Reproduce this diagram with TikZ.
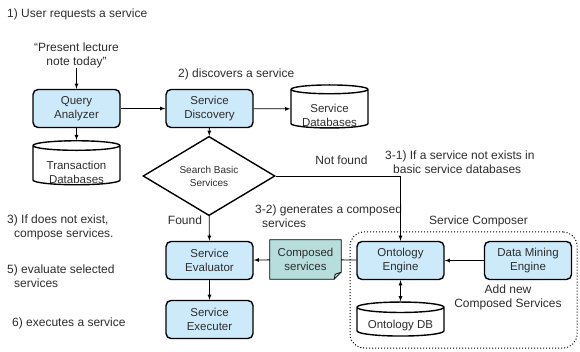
\documentclass[tikz,border=0pt]{standalone}
\usepackage{fontspec}
\setmainfont{Liberation Sans}
\usepackage{tikz}
\usetikzlibrary{arrows,backgrounds}
\usetikzlibrary{shapes}
\usepackage{xcolor}
\definecolor{box-blue}{RGB}{205,234,250}
\definecolor{note-teal}{RGB}{183,222,221}
\definecolor{ink}{RGB}{45,45,45}
\tikzstyle{process}=[draw, line width=1.4pt, rounded corners=5pt, fill=box-blue, align=center, minimum width=87pt, minimum height=38pt, inner sep=0pt, font=\fontsize{11.5}{14}\selectfont]
\tikzstyle{database}=[draw, line width=1.4pt, cylinder, shape border rotate=90, aspect=0.16, fill=white, align=center, inner sep=0pt, font=\fontsize{11.5}{14}\selectfont]
\tikzstyle{dblabel}=[align=center, font=\fontsize{11.5}{14}\selectfont]
\tikzstyle{decision}=[draw, line width=1.4pt, diamond, align=center, minimum width=132pt, minimum height=54pt, inner sep=0pt, font=\fontsize{10}{13}\selectfont]
\tikzstyle{caption}=[align=left, anchor=west, inner sep=0pt]
\tikzstyle{connector}=[line width=0.8pt, -latex]

\begin{document}
\begin{tikzpicture}[x=1pt, y=-1pt, text=ink, font=\fontsize{12}{14}\selectfont]
	\useasboundingbox (0,0) rectangle (580,352);
	\node[caption] (step1) at (7,14) {1) User requests a service};
	\node[align=center, inner sep=0pt] (quote) at (76.5,55) {``Present lecture\\note today''};
	\node[process] (query) at (76.5,108.5) {Query\\Analyzer};
	\node[process] (discovery) at (209.5,108.5) {Service\\Discovery};
	\node[caption] (step2) at (178,74) {2) discovers a service};
	\node[database, minimum width=77pt, minimum height=43pt, label={[dblabel, yshift=-6pt]center:Service\\Databases}] (servicedb) at (329.5,109) {\phantom{Service}\\\phantom{Databases}};
	\node[database, minimum width=87pt, minimum height=44pt, label={[dblabel, yshift=-7pt]center:Transaction\\Databases}] (transdb) at (76.5,165.5) {\phantom{Transaction}\\\phantom{Databases}};
	\node[decision] (search) at (209,176) {Search Basic\\Services};
	\node (notfound) at (341.5,160) {Not found};
	\node[caption] (step31) at (385,162.5) {3-1) If a service not exists in\\\hspace*{8pt}basic service databases};
	\node (found) at (185,220) {Found};
	\node[caption] (step32) at (255,216) {3-2) generates a composed\\\hspace*{7pt}services};
	\node[caption] (step3) at (7,227.5) {3) If does not exist,\\\hspace*{7pt}compose services.};
	\node[caption] (step5) at (7,276) {5) evaluate selected\\\hspace*{7pt}services};
	\node[caption] (step6) at (12,323) {6) executes a service};
	\node[process] (evaluator) at (209.5,260.5) {Service\\Evaluator};
	\node[process] (executer) at (209.5,319.5) {Service\\Executer};
	\node[align=center, minimum width=71pt, minimum height=39pt, inner sep=0pt, font=\fontsize{11.5}{14}\selectfont] (composed) at (305.5,259.5) {Composed\\services};
	\node[draw, dotted, line width=1pt, rounded corners=14pt, minimum width=227pt, minimum height=116pt] (composer) at (463.5,290) {};
	\node (composertitle) at (478.5,221) {Service Composer};
	\node[process] (ontology) at (400.5,260.5) {Ontology\\Engine};
	\node[process] (mining) at (528,260.5) {Data Mining\\Engine};
	\node[align=center, inner sep=0pt] (addnew) at (508,297) {Add new\\Composed Services};
	\node[database, minimum width=87pt, minimum height=34pt, label={[dblabel, yshift=-4pt]center:Ontology DB}] (ontologydb) at (400.5,322) {\phantom{Ontology DB}};
	\begin{scope}[on background layer]
		\filldraw[fill=note-teal, line width=0.8pt] (composed.north west) -- (composed.north east) -- ([yshift=7pt]composed.south east) -- ([xshift=-7pt]composed.south east) -- (composed.south west) -- cycle;
		\draw[line width=0.8pt] ([yshift=7pt]composed.south east) -- ([xshift=-6pt,yshift=5pt]composed.south east) -- ([xshift=-7pt]composed.south east);
	\end{scope}
	\draw[connector] (quote) -- (query);
	\draw[connector] (query) -- (discovery);
	\draw[connector] (discovery) -- (servicedb);
	\draw[connector] (query) -- (transdb);
	\draw[connector] (discovery) -- (search);
	\draw[connector] (search) -- (evaluator);
	\draw[connector] (search.east) -| (ontology.north);
	\draw[connector] (evaluator) -- (executer);
	\draw[connector] (composed) -- (evaluator);
	\draw[line width=0.8pt] (ontology) -- (composed);
	\draw[connector] (mining) -- (ontology);
	\draw[connector, latex-latex] (ontology) -- (ontologydb);
\end{tikzpicture}
\end{document}
